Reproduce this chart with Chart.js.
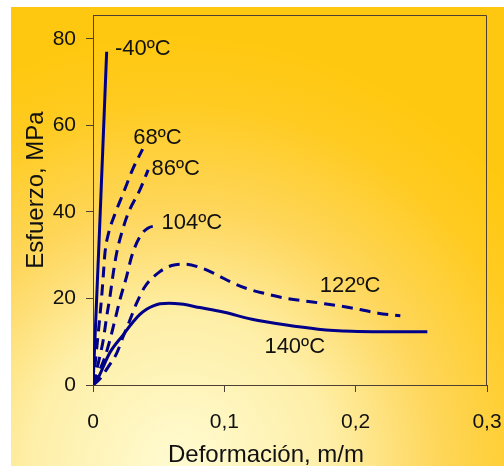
<!DOCTYPE html>
<html>
<head>
<meta charset="utf-8">
<style>
  html, body { margin: 0; padding: 0; background: #fff; }
  #wrap { width: 504px; height: 466px; }
</style>
<script src="https://cdn.jsdelivr.net/npm/chart.js@4"></script>
</head>
<body>
<div id="wrap"><canvas id="myChart" width="504" height="466"></canvas></div>
<script>
// datos (deformación m/m, esfuerzo MPa)
const strainM40 = [0, 0.005, 0.0104];
const stressM40 = [0, 36, 77];

const strain68 = [0, 0.003, 0.0066, 0.0078, 0.0091, 0.0116, 0.0167, 0.023, 0.0306, 0.0378];
const stress68 = [0, 9, 20.4, 25.1, 30.5, 34.8, 39.5, 44.3, 50.1, 54.5];

const strain86 = [0, 0.004, 0.0078, 0.0104, 0.0129, 0.0154, 0.018, 0.0218, 0.0268, 0.0357, 0.042];
const stress86 = [0, 5, 10.4, 15.8, 20.4, 25.8, 30.5, 35.1, 39.7, 45.1, 49.7];

const strain104 = [0, 0.0045, 0.0091, 0.0129, 0.0167, 0.0205, 0.0256, 0.0294, 0.0357, 0.042, 0.0496];
const stress104 = [0, 3, 6.5, 10.4, 15, 19.7, 25.1, 29.7, 34.3, 36.3, 36.8];

const strain122 = [0, 0.0055, 0.0116, 0.018, 0.023, 0.0281, 0.0332, 0.0395, 0.0509, 0.06, 0.07, 0.081, 0.094, 0.105, 0.117, 0.13, 0.146, 0.1715, 0.197, 0.217, 0.234];
const stress122 = [0, 1.5, 4.2, 7.3, 11.2, 15, 18.9, 22.7, 26.2, 27.6, 27.9, 27.2, 25.5, 23.8, 22.3, 21.2, 20.1, 19, 17.8, 16.6, 16];

const strain140 = [0, 0.0028, 0.0129, 0.023, 0.0306, 0.0357, 0.0408, 0.0459, 0.051, 0.058, 0.067, 0.0813, 0.1, 0.121, 0.146, 0.1715, 0.197, 0.22, 0.2546];
const stress140 = [0, 1, 7.5, 11.6, 14.6, 16.3, 17.5, 18.3, 18.8, 18.9, 18.7, 17.9, 16.8, 15.2, 13.9, 12.9, 12.4, 12.3, 12.3];

const curveLabels = ['-40ºC', '68ºC', '86ºC', '104ºC', '122ºC', '140ºC'];
const labelStrain = [0.0167, 0.0306, 0.0446, 0.0522, 0.1727, 0.1305];
const labelStress = [77.7, 57.0, 49.9, 37.5, 22.8, 8.9];

const xTicks = [0, 0.1, 0.2, 0.3];
const xTickLabels = ['0', '0,1', '0,2', '0,3'];
const yTicks = [0, 20, 40, 60, 80];

const xTitle = 'Deformación, m/m';
const yTitle = 'Esfuerzo, MPa';

const navy = '#000088';
const axisColor = '#4d4033';
const font = 'Arial, "Liberation Sans", sans-serif';

const pts = (xs, ys) => xs.map((x, i) => ({ x, y: ys[i] }));
const serie = (xs, ys, dashed) => ({
  data: pts(xs, ys),
  borderColor: navy,
  borderWidth: 3,
  borderDash: dashed ? [11, 7] : [],
  pointRadius: 0,
  cubicInterpolationMode: 'monotone',
  showLine: true,
  fill: false
});

// fondo degradado + marco del área de trazado
const bgPlugin = {
  id: 'bg',
  beforeDraw(chart) {
    const c = chart.ctx;
    c.save();
    c.fillStyle = '#fff';
    c.fillRect(0, 0, chart.width, chart.height);
    const g = c.createRadialGradient(180, 466, 0, 180, 466, 430);
    g.addColorStop(0, '#fffbd2');
    g.addColorStop(0.35, '#feefa8');
    g.addColorStop(0.6, '#fed65a');
    g.addColorStop(0.85, '#ffcb20');
    g.addColorStop(1, '#ffc810');
    c.fillStyle = g;
    c.fillRect(11, 7, chart.width - 11, chart.height - 7);
    c.restore();
  },
  afterDraw(chart) {
    const c = chart.ctx, a = chart.chartArea;
    const xs = chart.scales.x, ys = chart.scales.y;
    c.save();
    c.strokeStyle = axisColor;
    c.lineWidth = 1;
    c.beginPath();
    c.moveTo(a.left, a.top + 0.5);
    c.lineTo(a.right - 0.5, a.top + 0.5);
    c.lineTo(a.right - 0.5, a.bottom);
    c.stroke();

    c.fillStyle = '#111';
    c.font = '22px ' + font;
    c.textAlign = 'left';
    c.textBaseline = 'middle';
    curveLabels.forEach((t, i) => {
      c.fillText(t, xs.getPixelForValue(labelStrain[i]), ys.getPixelForValue(labelStress[i]));
    });

    c.font = '24px ' + font;
    c.textAlign = 'center';
    c.textBaseline = 'alphabetic';
    c.fillText(xTitle, 266, 462);
    c.translate(43, 190);
    c.rotate(-Math.PI / 2);
    c.fillText(yTitle, 0, 0);
    c.restore();
  }
};

const ctx = document.getElementById('myChart');
const myChart = new Chart(ctx, {
  type: 'scatter',
  data: {
    datasets: [
      serie(strainM40, stressM40, false),
      serie(strain68, stress68, true),
      serie(strain86, stress86, true),
      serie(strain104, stress104, true),
      serie(strain122, stress122, true),
      serie(strain140, stress140, false)
    ]
  },
  options: {
    responsive: false,
    animation: false,
    devicePixelRatio: 1,
    layout: { padding: { left: 0, top: 15, right: 17, bottom: 0 } },
    plugins: { legend: { display: false }, tooltip: { enabled: false } },
    scales: {
      x: {
        type: 'linear',
        min: 0, max: 0.3,
        afterFit: (s) => { s.height = 81; s.paddingLeft = 0; s.paddingRight = 0; },
        afterBuildTicks: (s) => { s.ticks = xTicks.map(v => ({ value: v })); },
        ticks: {
          color: '#111', padding: 18,
          font: { size: 21, family: font },
          callback: (v, i) => xTickLabels[i]
        },
        grid: { drawOnChartArea: false, color: axisColor, tickLength: 7 },
        border: { display: true, color: axisColor, width: 1 }
      },
      y: {
        min: 0, max: 85.5,
        afterFit: (s) => { s.width = 93; s.paddingTop = 0; s.paddingBottom = 0; },
        afterBuildTicks: (s) => { s.ticks = yTicks.map(v => ({ value: v })); },
        ticks: {
          color: '#111', padding: 10,
          font: { size: 21, family: font }
        },
        grid: { drawOnChartArea: false, color: axisColor, tickLength: 7 },
        border: { display: true, color: axisColor, width: 1 }
      }
    }
  },
  plugins: [bgPlugin]
});
</script>
</body>
</html>
